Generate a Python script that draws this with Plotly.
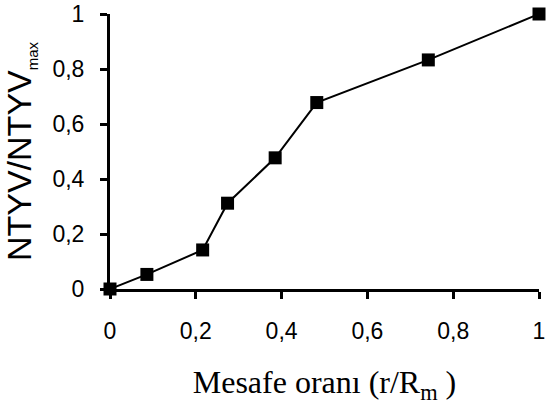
import plotly.graph_objects as go

r_ratio = [0.0, 0.086, 0.216, 0.274, 0.385, 0.482, 0.742, 1.0]
ntyv_ratio = [0.0, 0.053, 0.142, 0.312, 0.477, 0.678, 0.833, 1.0]
tick_vals = [0, 0.2, 0.4, 0.6, 0.8, 1]
tick_text = ["0", "0,2", "0,4", "0,6", "0,8", "1"]

fig = go.Figure()
fig.add_trace(go.Scatter(
    x=r_ratio, y=ntyv_ratio, mode="lines+markers",
    line=dict(color="black", width=2),
    marker=dict(symbol="square", size=13, color="black"),
    cliponaxis=False, showlegend=False,
))

axis_common = dict(
    range=[0, 1], showgrid=False, zeroline=False, automargin=False,
    showline=True, linecolor="black", linewidth=3,
    ticks="outside", tickcolor="black", tickwidth=3, ticklen=7,
    tickvals=tick_vals, ticktext=tick_text,
    tickfont=dict(family="Liberation Sans, Arial", size=23, color="black"),
)

fig.update_xaxes(**axis_common, ticklabelstandoff=12,
                 title=dict(text="Mesafe oranı (r/R<sub>m</sub> )",
                            font=dict(family="Liberation Serif, Times New Roman", size=32, color="black"),
                            standoff=29))
fig.update_yaxes(**axis_common, ticklabelstandoff=11,
                 title=dict(text="NTYV/NTYV<sub><span style='font-size:15px'>max</span></sub>",
                            font=dict(family="Liberation Sans, Arial", size=34, color="black"),
                            standoff=18))

fig.update_layout(
    width=546, height=407,
    margin=dict(l=110, r=7, t=14, b=118),
    plot_bgcolor="white", paper_bgcolor="white",
)

fig.write_html("out.html", config={"displayModeBar": False},
               post_script="document.body.style.margin='0px';document.body.style.overflow='hidden';")
